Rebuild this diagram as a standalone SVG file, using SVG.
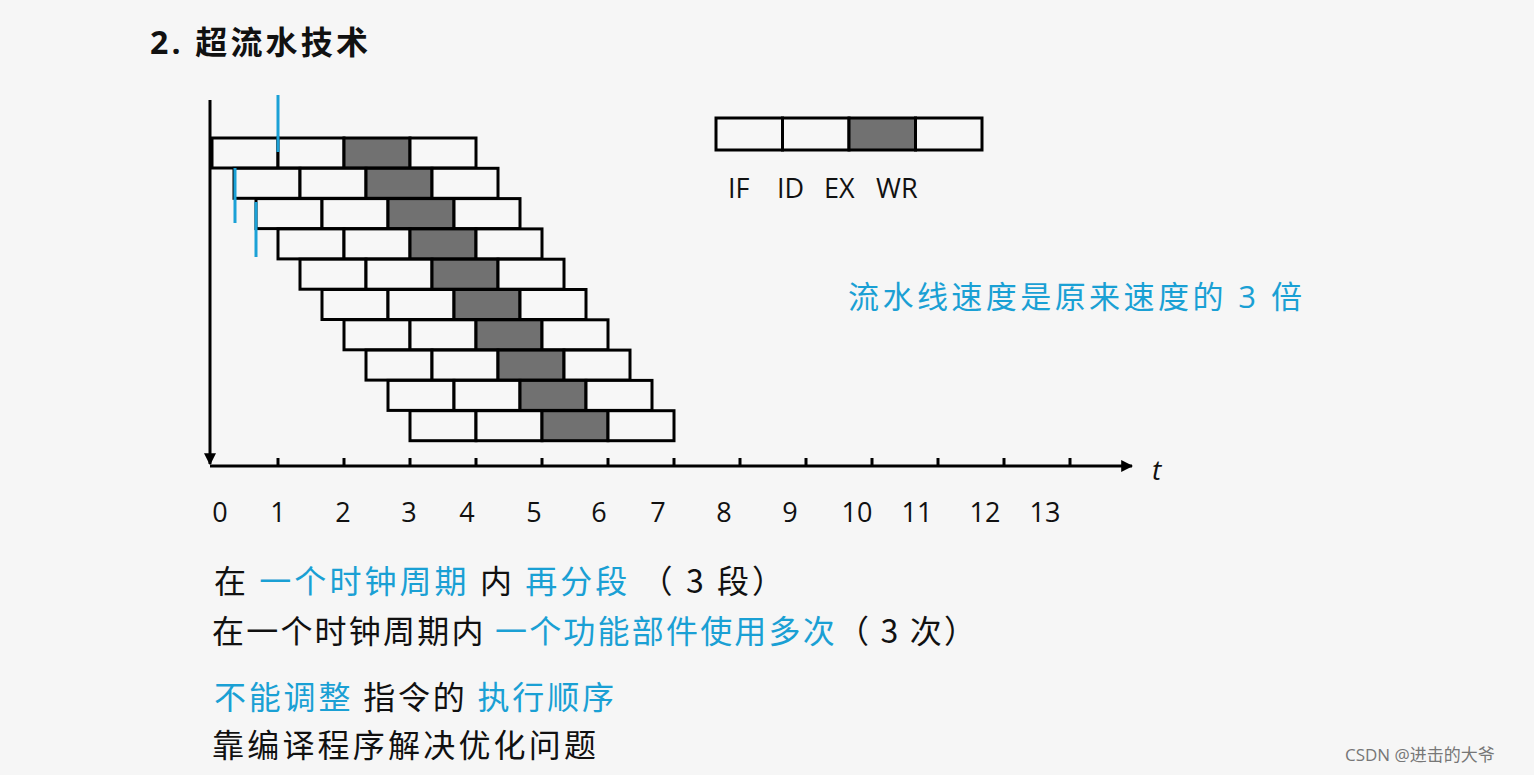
<svg xmlns="http://www.w3.org/2000/svg" width="1534" height="775" viewBox="0 0 1534 775">
<defs>
<style>
.b{fill:#f7f7f7;stroke:#000;stroke-width:3}
.d{fill:#717171;stroke:#000;stroke-width:3}
.ax{stroke:#000;stroke-width:3;fill:none}
.bl{stroke:#1ba1d6;stroke-width:3}
text{font-family:"Open Sans","Noto Sans CJK SC",sans-serif;}
.n{font-size:27px;fill:#111}
.k{fill:#111;font-size:32px;font-family:"Noto Sans CJK SC",sans-serif}
.c{fill:#1aa0d4}
</style>
<g id="r"><rect class="b" x="0" y="0" width="66" height="30"/><rect class="b" x="66" y="0" width="66" height="30"/><rect class="d" x="132" y="0" width="66" height="30"/><rect class="b" x="198" y="0" width="66" height="30"/></g>
<marker id="ah" viewBox="0 0 10 10" refX="9" refY="5" markerWidth="4" markerHeight="4" orient="auto"><path d="M0,0L10,5L0,10z" fill="#000"/></marker>
</defs>
<rect width="1534" height="775" fill="#f6f6f6"/>
<text x="150" y="54" font-size="32" font-weight="bold" fill="#111" font-family="'Noto Sans CJK SC',sans-serif" textLength="218" lengthAdjust="spacing">2. 超流水技术</text>
<g id="connectors">
<line class="ax" x1="210" y1="100" x2="210" y2="464" marker-end="url(#ah)"/>
<line class="ax" x1="210" y1="466" x2="1132" y2="466" marker-end="url(#ah)"/>
<path class="ax" d="M278 458V466M344 458V466M410 458V466M476 458V466M542 458V466M608 458V466M674 458V466M740 458V466M806 458V466M872 458V466M938 458V466M1004 458V466M1070 458V466"/>
</g>
<g id="rows">
<use href="#r" x="212" y="138"/>
<use href="#r" x="234" y="168.3"/>
<use href="#r" x="256" y="198.6"/>
<use href="#r" x="278" y="228.9"/>
<use href="#r" x="300" y="259.2"/>
<use href="#r" x="322" y="289.5"/>
<use href="#r" x="344" y="319.8"/>
<use href="#r" x="366" y="350.1"/>
<use href="#r" x="388" y="380.4"/>
<use href="#r" x="410" y="410.7"/>
</g>
<g id="markers">
<line class="bl" x1="278" y1="95" x2="278" y2="152"/>
<line class="bl" x1="235" y1="168" x2="235" y2="223"/>
<line class="bl" x1="256" y1="202" x2="256" y2="257"/>
</g>
<g id="legend">
<rect class="b" x="716" y="118" width="66.5" height="32"/><rect class="b" x="782.5" y="118" width="66.5" height="32"/><rect class="d" x="849" y="118" width="66.5" height="32"/><rect class="b" x="915.5" y="118" width="66.5" height="32"/>
<text class="n" x="728" y="198">IF</text><text class="n" x="777" y="198">ID</text><text class="n" x="824" y="198">EX</text><text class="n" x="876" y="198">WR</text>
</g>
<text x="1152" y="480" font-size="28" font-style="italic" fill="#111" font-family="'Liberation Serif',serif">t</text>
<g id="labels" class="n" text-anchor="middle">
<text x="220" y="522">0</text><text x="278" y="522">1</text><text x="343" y="522">2</text><text x="409" y="522">3</text><text x="467" y="522">4</text><text x="534" y="522">5</text><text x="599" y="522">6</text><text x="658" y="522">7</text><text x="724" y="522">8</text><text x="790" y="522">9</text><text x="857" y="522">10</text><text x="917" y="522">11</text><text x="985" y="522">12</text><text x="1045" y="522">13</text>
</g>
<text x="848" y="308" font-size="31" class="c" font-family="'Noto Sans CJK SC',sans-serif" textLength="454" lengthAdjust="spacing">流水线速度是原来速度的 3 倍</text>
<text class="k" x="214" y="593" textLength="570" lengthAdjust="spacing">在 <tspan class="c">一个时钟周期</tspan> 内 <tspan class="c">再分段</tspan> （ 3 段）</text>
<text class="k" x="212" y="643" textLength="764" lengthAdjust="spacing">在一个时钟周期内 <tspan class="c">一个功能部件使用多次</tspan>（ 3 次）</text>
<text class="k" x="214" y="709" textLength="400" lengthAdjust="spacing"><tspan class="c">不能调整</tspan> 指令的 <tspan class="c">执行顺序</tspan></text>
<text class="k" x="212" y="757" textLength="384" lengthAdjust="spacing">靠编译程序解决优化问题</text>
<text x="1345" y="761" font-size="17" fill="#777" font-family="'Noto Sans CJK SC',sans-serif">CSDN @进击的大爷</text>
</svg>
